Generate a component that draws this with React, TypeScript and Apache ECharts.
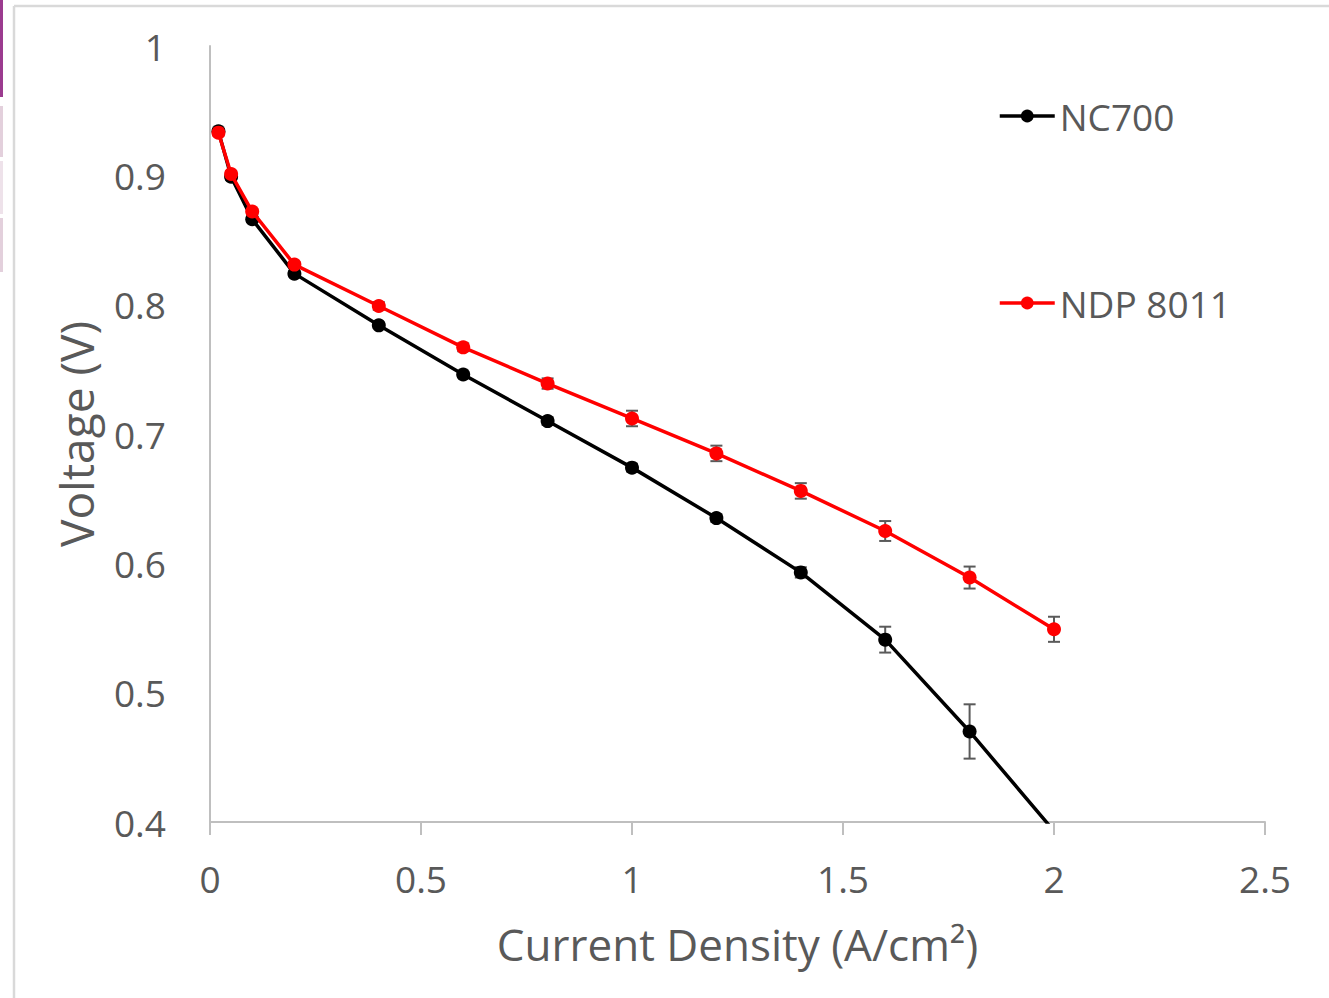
import React, { useEffect, useRef } from "react";
import * as echarts from "echarts";

const currentDensity = [0.02, 0.05, 0.1, 0.2, 0.4, 0.6, 0.8, 1.0, 1.2, 1.4, 1.6, 1.8, 2.0];
const nc700 = [0.934, 0.899, 0.866, 0.824, 0.784, 0.746, 0.71, 0.674, 0.635, 0.593, 0.541, 0.47, 0.393];
const nc700Err = [0.002, 0.002, 0.002, 0.002, 0.002, 0.002, 0.003, 0.003, 0.003, 0.004, 0.01, 0.021, 0];
const ndp8011 = [0.933, 0.901, 0.872, 0.831, 0.799, 0.767, 0.739, 0.712, 0.685, 0.656, 0.625, 0.589, 0.549];
const ndp8011Err = [0.002, 0.002, 0.002, 0.002, 0.003, 0.003, 0.004, 0.006, 0.006, 0.006, 0.0077, 0.0085, 0.0097];

const xTicks = { min: 0, max: 2.5, interval: 0.5 };
const yTicks = { min: 0.4, max: 1, interval: 0.1 };

const FONT = "'Open Sans', 'Noto Sans', sans-serif";
const TEXT = "#595959";
const AXIS = "#bfbfbf";

function errorSeries(name: string, xs: number[], ys: number[], errs: number[]) {
  return {
    type: "custom",
    name: name + " err",
    z: 1,
    silent: true,
    data: xs.map((x, i) => [x, ys[i], errs[i]]),
    renderItem: (_params: any, api: any) => {
      const x = api.value(0);
      const y = api.value(1);
      const e = api.value(2);
      if (!e) return null;
      const top = api.coord([x, y + e]);
      const bot = api.coord([x, y - e]);
      const hw = 6;
      const style = { stroke: "#5a5a5a", lineWidth: 2 };
      return {
        type: "group",
        children: [
          { type: "line", shape: { x1: top[0], y1: top[1], x2: bot[0], y2: bot[1] }, style },
          { type: "line", shape: { x1: top[0] - hw, y1: top[1], x2: top[0] + hw, y2: top[1] }, style },
          { type: "line", shape: { x1: bot[0] - hw, y1: bot[1], x2: bot[0] + hw, y2: bot[1] }, style },
        ],
      };
    },
  };
}

export default function App() {
  const ref = useRef<HTMLDivElement>(null);
  useEffect(() => {
    if (!ref.current) return;
    const chart = echarts.init(ref.current, null, { renderer: "svg" });
    chart.setOption({
      animation: false,
      backgroundColor: "#ffffff",
      textStyle: { fontFamily: FONT },
      grid: { left: 210, right: 64, top: 46, bottom: 176, containLabel: false },
      graphic: [
        { type: "line", shape: { x1: 14, y1: 6, x2: 1329, y2: 6 }, style: { stroke: "#d9d9d9", lineWidth: 2.5 } },
        { type: "line", shape: { x1: 14, y1: 6, x2: 14, y2: 998 }, style: { stroke: "#d9d9d9", lineWidth: 2.5 } },
        { type: "rect", shape: { x: 0, y: 0, width: 3, height: 97 }, style: { fill: "#9b3b8f" } },
        { type: "rect", shape: { x: 0, y: 106, width: 3, height: 51 }, style: { fill: "#e3d0dc" } },
        { type: "rect", shape: { x: 0, y: 161, width: 3, height: 53 }, style: { fill: "#eee2ea" } },
        { type: "rect", shape: { x: 0, y: 218, width: 3, height: 54 }, style: { fill: "#e3d0dc" } },
      ],
      legend: {
        orient: "vertical",
        left: 998,
        top: 96,
        padding: 0,
        itemWidth: 55,
        itemHeight: 16,
        itemGap: 147,
        data: ["NC700", "NDP 8011"],
        lineStyle: { width: 3.5 },
        textStyle: { fontSize: 37, color: TEXT, fontFamily: FONT, lineHeight: 40, padding: [0, 0, 0, 0] },
      },
      xAxis: {
        type: "value",
        min: xTicks.min,
        max: xTicks.max,
        interval: xTicks.interval,
        name: "Current Density (A/cm²)",
        nameLocation: "middle",
        nameGap: 100,
        nameTextStyle: { fontSize: 44, color: TEXT, fontFamily: FONT },
        axisLine: { show: true, lineStyle: { color: AXIS, width: 2 } },
        axisTick: { show: true, length: 13, lineStyle: { color: AXIS, width: 2 } },
        axisLabel: { fontSize: 37, color: TEXT, margin: 38, fontFamily: FONT },
        splitLine: { show: false },
      },
      yAxis: {
        type: "value",
        min: yTicks.min,
        max: yTicks.max,
        interval: yTicks.interval,
        name: "Voltage (V)",
        nameLocation: "middle",
        nameGap: 111,
        nameTextStyle: { fontSize: 46, color: TEXT, fontFamily: FONT },
        axisLine: { show: true, lineStyle: { color: AXIS, width: 2 } },
        axisTick: { show: false },
        axisLabel: { fontSize: 37, color: TEXT, margin: 44, fontFamily: FONT, padding: [0, 0, 4, 0] },
        splitLine: { show: false },
      },
      series: [
        errorSeries("NC700", currentDensity, nc700, nc700Err),
        errorSeries("NDP 8011", currentDensity, ndp8011, ndp8011Err),
        {
          type: "line",
          name: "NC700",
          z: 3,
          clip: true,
          data: currentDensity.map((x, i) => [x, nc700[i]]),
          symbol: "circle",
          symbolSize: 14,
          lineStyle: { color: "#000000", width: 3.5 },
          itemStyle: { color: "#000000" },
        },
        {
          type: "line",
          name: "NDP 8011",
          z: 4,
          clip: true,
          data: currentDensity.map((x, i) => [x, ndp8011[i]]),
          symbol: "circle",
          symbolSize: 14,
          lineStyle: { color: "#ff0000", width: 3.5 },
          itemStyle: { color: "#ff0000" },
        },
      ],
    });
    return () => chart.dispose();
  }, []);
  return (
    <div
      ref={ref}
      style={{ position: "absolute", left: 0, top: 0, width: 1329, height: 998, background: "#fff" }}
    />
  );
}
